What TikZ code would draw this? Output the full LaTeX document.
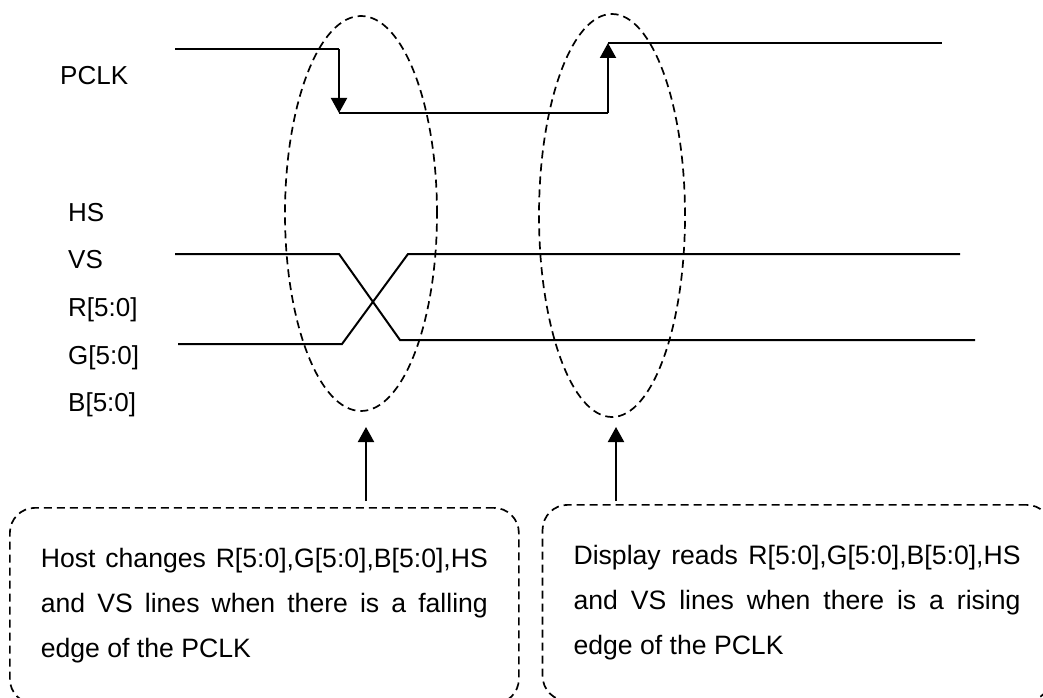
\documentclass[tikz,border=0pt]{standalone}
\usepackage{fontspec}
\setmainfont{Liberation Sans}
\usetikzlibrary{shapes.geometric, arrows.meta, positioning}
\tikzstyle{sig} = [line width=2pt]
\tikzstyle{arrow} = [line width=2pt, -{Triangle[length=15pt, width=16pt]}]
\tikzstyle{window} = [ellipse, draw, line width=1.7pt, dash pattern=on 8pt off 5pt, inner sep=0pt]
\tikzstyle{notebox} = [rectangle, rounded corners=25pt, draw, line width=1.7pt, dash pattern=on 8pt off 5pt, minimum width=509pt, minimum height=196pt, text width=447pt, align=justify, font=\fontsize{26.6}{45}\selectfont]
\tikzstyle{siglabel} = [anchor=base west, inner sep=0pt, font=\fontsize{26}{30}\selectfont]

\begin{document}
\begin{tikzpicture}[x=1pt, y=-1pt]
\useasboundingbox (0,0) rectangle (1043,698);

% signal names
\node (pclk) [siglabel] at (60,85) {PCLK};
\node (hs) [siglabel] at (68,221) {HS};
\node (vs) [siglabel] at (68,268) {VS};
\node (rbus) [siglabel] at (68,316) {R[5:0]};
\node (gbus) [siglabel] at (68,364) {G[5:0]};
\node (bbus) [siglabel] at (68,411) {B[5:0]};

% clock
\draw [sig] (175,49) -- (339,49);
\draw [arrow] (339,49) -- (339,113);
\draw [sig] (339,113) -- (608,113);
\draw [arrow] (608,113) -- (608,43);
\draw [sig] (608,43) -- (942,43);

% data lines
\draw [sig] (175,254) -- (339,254) -- (400,340) -- (975,340);
\draw [sig] (178,344) -- (342,344) -- (408,254) -- (960,254);

% edge windows
\node (fallwin) [window, minimum width=152pt, minimum height=395pt] at (361,213.5) {};
\node (risewin) [window, minimum width=146pt, minimum height=403pt] at (612,215.5) {};

% notes
\node (hostbox) [notebox, anchor=north west] at (9,507) {Host changes R[5:0],G[5:0],B[5:0],HS\linebreak and VS lines when there is a falling\linebreak edge of the PCLK};
\node (readbox) [notebox, right=22pt of hostbox, yshift=3pt] {Display reads R[5:0],G[5:0],B[5:0],HS\linebreak and VS lines when there is a rising\linebreak edge of the PCLK};

\coordinate (hostup) at (366,427);
\coordinate (readup) at (616,427);
\draw [arrow] ([yshift=6pt]hostbox.north -| hostup) -- (hostup);
\draw [arrow] ([yshift=3pt]readbox.north -| readup) -- (readup);

\end{tikzpicture}
\end{document}
